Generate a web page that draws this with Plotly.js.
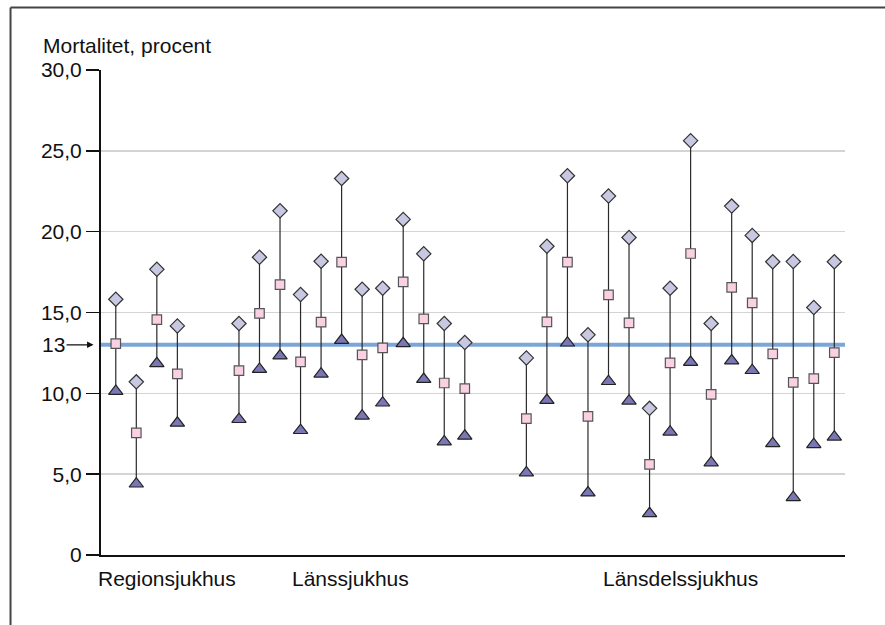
<!DOCTYPE html>
<html>
<head>
<meta charset="utf-8">
<script src="https://cdn.plot.ly/plotly-3.0.1.min.js"></script>
<style>html,body{margin:0;padding:0;background:#fff;}#chart{width:885px;height:625px;}</style>
</head>
<body>
<div id="chart"></div>
<script>
// Group names
var groups = ["Regionsjukhus", "Länssjukhus", "Länsdelssjukhus"];

// Upper limit (diamond), mortality (square), lower limit (triangle), per hospital
var regionUpper = [15.82, 10.71, 17.67, 14.17];
var regionValue = [13.08, 7.55, 14.56, 11.20];
var regionLower = [10.13, 4.40, 11.84, 8.16];

var lansUpper = [14.32, 18.42, 21.29, 16.11, 18.17, 23.29, 16.44, 16.50, 20.76, 18.63, 14.32, 13.14];
var lansValue = [11.41, 14.95, 16.73, 11.94, 14.40, 18.11, 12.38, 12.81, 16.90, 14.61, 10.64, 10.29];
var lansLower = [8.39, 11.49, 12.32, 7.71, 11.20, 13.28, 8.60, 9.41, 13.08, 10.87, 7.01, 7.36];

var lansdelUpper = [12.19, 19.10, 23.46, 13.62, 22.20, 19.64, 9.07, 16.50, 25.63, 14.32, 21.58, 19.77, 18.14, 18.15, 15.31, 18.14];
var lansdelValue = [8.43, 14.42, 18.11, 8.58, 16.09, 14.36, 5.60, 11.88, 18.65, 9.94, 16.56, 15.60, 12.44, 10.68, 10.91, 12.52];
var lansdelLower = [5.09, 9.57, 13.12, 3.85, 10.74, 9.53, 2.57, 7.61, 11.92, 5.71, 12.01, 11.42, 6.90, 3.56, 6.84, 7.30];

// Reference level
var referenceLevel = 13;
var referenceLabel = "13";

// Y tick values and labels
var yTickValues = [0, 5, 10, 15, 20, 25, 30];
var yTickLabels = ["0", "5,0", "10,0", "15,0", "20,0", "25,0", "30,0"];

var yTitle = "Mortalitet, procent";

// ---- build positions (one slot per hospital, 2 empty slots between groups)
var upperSets = [regionUpper, lansUpper, lansdelUpper];
var valueSets = [regionValue, lansValue, lansdelValue];
var lowerSets = [regionLower, lansLower, lansdelLower];
var GAP = 2;

var xs = [], up = [], mid = [], lo = [], groupCenters = [];
var slot = 0;
for (var g = 0; g < groups.length; g++) {
  var start = slot;
  for (var i = 0; i < upperSets[g].length; i++) {
    xs.push(slot); up.push(upperSets[g][i]); mid.push(valueSets[g][i]); lo.push(lowerSets[g][i]);
    slot++;
  }
  groupCenters.push((start + slot - 1) / 2);
  slot += GAP;
}

var lx = [], ly = [];
for (var k = 0; k < xs.length; k++) {
  lx.push(xs[k], xs[k], null);
  ly.push(up[k], lo[k], null);
}

var FONT = "Liberation Sans, Arial, sans-serif";
var FS = 21;

var traces = [
  {x: lx, y: ly, mode: "lines", line: {color: "#2a2a2a", width: 1.2}, hoverinfo: "skip", showlegend: false},
  {x: xs, y: up, mode: "markers", marker: {symbol: "diamond", size: 11, color: "#c9c8e2", line: {color: "#333333", width: 1.2}}, showlegend: false},
  {x: xs, y: lo, mode: "markers", marker: {symbol: "triangle-up", size: 12.5, color: "#7a77b4", line: {color: "#222222", width: 1.2}}, showlegend: false},
  {x: xs, y: mid, mode: "markers", marker: {symbol: "square", size: 9.5, color: "#f9d1e2", line: {color: "#555555", width: 1.2}}, showlegend: false}
];

var annotations = [
  {xref: "paper", yref: "paper", x: -0.080, y: 1.0495, xanchor: "left", yanchor: "middle",
   text: yTitle, showarrow: false, font: {family: FONT, size: FS, color: "#111"}},
  {xref: "paper", yref: "y", x: -0.010, y: referenceLevel, text: referenceLabel,
   showarrow: true, ax: -40, ay: 0, arrowhead: 2, arrowsize: 1, arrowwidth: 1.3, arrowcolor: "#111",
   standoff: 0, font: {family: FONT, size: FS, color: "#111"}}
];
var labelShift = [20, -1, 0];
for (var g2 = 0; g2 < groups.length; g2++) {
  annotations.push({xref: "x", yref: "paper", x: groupCenters[g2], y: -0.048, xshift: labelShift[g2],
    xanchor: "center", yanchor: "middle", text: groups[g2], showarrow: false,
    font: {family: FONT, size: FS, color: "#111"}});
}

var layout = {
  width: 885, height: 625,
  margin: {l: 101, r: 40, t: 70, b: 70},
  paper_bgcolor: "#fff", plot_bgcolor: "#fff",
  font: {family: FONT, size: FS, color: "#111"},
  xaxis: {range: [-0.72, 35.52], showgrid: false, zeroline: false, showticklabels: false, ticks: "",
          showline: true, linecolor: "#111", linewidth: 2, fixedrange: true},
  yaxis: {range: [0, 30], tickvals: yTickValues, ticktext: yTickLabels, ticks: "outside", ticklen: 13,
          tickwidth: 1.5, tickcolor: "#111", showline: true, linecolor: "#111", linewidth: 2,
          showgrid: true, gridcolor: "#d4d4d4", gridwidth: 1.5, zeroline: false,
          tickfont: {family: FONT, size: FS, color: "#111"}, fixedrange: true},
  shapes: [
    {type: "line", xref: "paper", yref: "y", x0: 0, x1: 1, y0: referenceLevel, y1: referenceLevel,
     line: {color: "#7ca6d9", width: 4}, layer: "below"},
    {type: "line", xref: "paper", yref: "paper", x0: -0.1216, x1: 1.2, y0: 1.129, y1: 1.129,
     line: {color: "#444", width: 2}},
    {type: "line", xref: "paper", yref: "paper", x0: -0.1216, x1: -0.1216, y0: 1.129, y1: -0.3,
     line: {color: "#444", width: 2}}
  ],
  annotations: annotations
};

Plotly.newPlot("chart", traces, layout, {staticPlot: true, displayModeBar: false});
</script>
</body>
</html>
